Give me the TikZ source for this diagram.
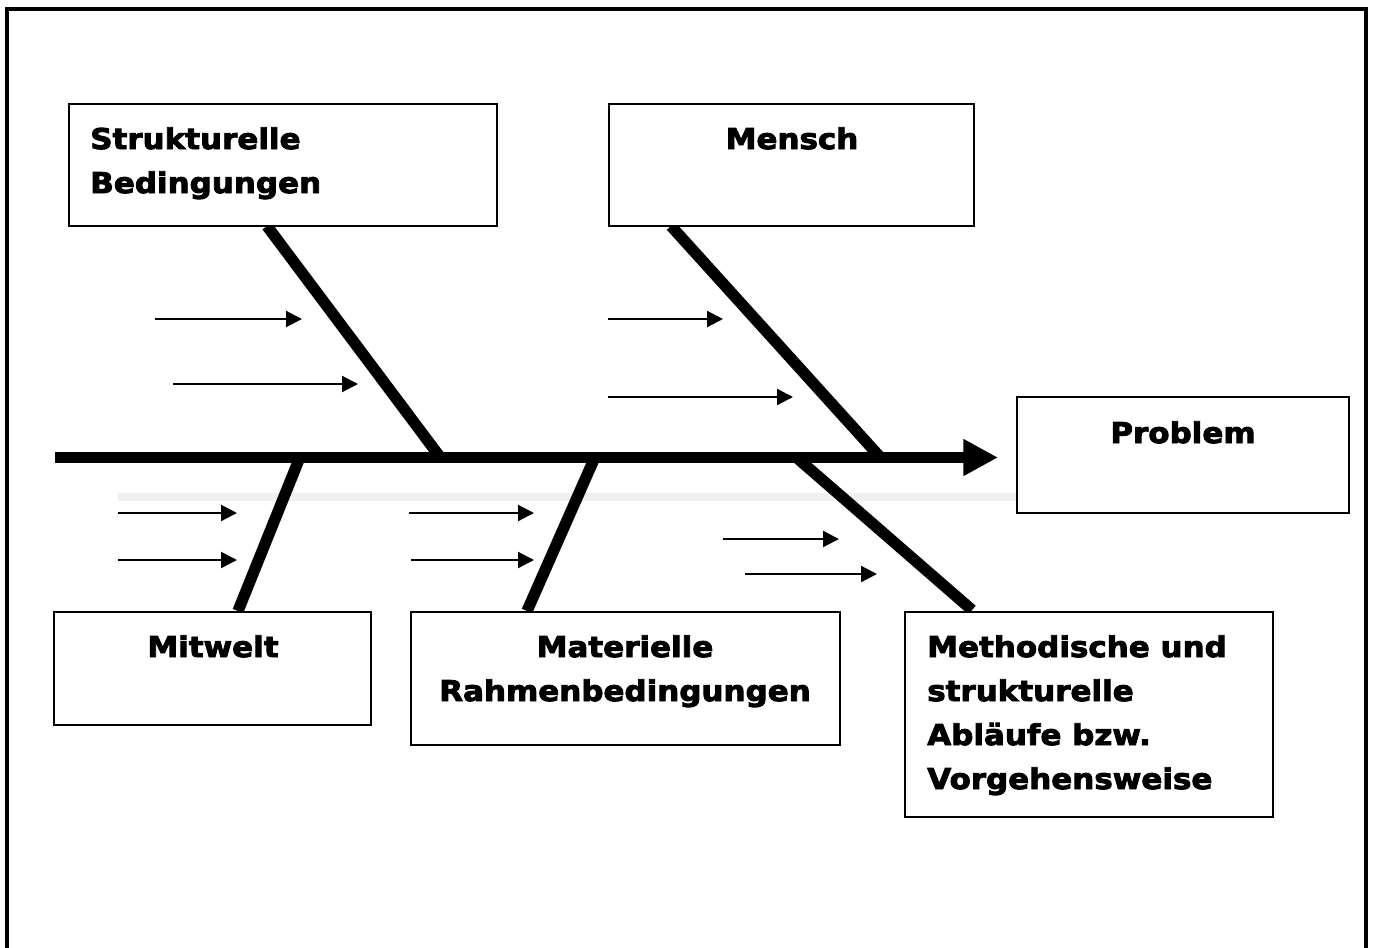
\documentclass[tikz,border=0pt]{standalone}
\usepackage{fontspec}
\newfontfamily\labelfont{DejaVu Sans Bold}[FakeStretch=1.08, FakeBold=3]
\usetikzlibrary{arrows.meta,fit}
\definecolor{shadowgray}{HTML}{F0F0F0}
\tikzset{
  frameline/.style={line width=3pt},
  boxstyle/.style={draw, line width=1.2pt, inner sep=0pt, fill=white},
  spineline/.style={line width=8.25pt, -{Triangle[length=26pt,width=26pt]}},
  boneline/.style={line width=8.5pt},
  smallarrow/.style={line width=1.6pt, -{Triangle[length=12pt,width=12pt]}},
  labeltext/.style={font={\labelfont\fontsize{21.5}{33}\selectfont}, inner sep=0pt},
}
\begin{document}
\begin{tikzpicture}[x=0.75pt,y=-0.75pt]
\useasboundingbox (0,0) rectangle (1374,947);
% outer frame
\draw[frameline] (7,960) -- (7,8.5) -- (1366,8.5) -- (1366,960);
% faint shadow line
\draw[shadowgray, line width=6pt] (118,497) -- (1016,497);
% spine
\coordinate (tail) at (55,457.5);
\coordinate (head) at (998,457.5);
\draw[spineline] (tail) -- (head);
% bone coordinates
\coordinate (sbTop) at (267,226);   \coordinate (sbBot) at (440,457);
\coordinate (meTop) at (671,226);   \coordinate (meBot) at (880,457);
\coordinate (miTop) at (300,457);   \coordinate (miBot) at (238,611);
\coordinate (maTop) at (595,457);   \coordinate (maBot) at (527,611);
\coordinate (mtTop) at (796,457);   \coordinate (mtBot) at (972,610);
\draw[boneline] (sbTop) -- (sbBot);
\draw[boneline] (meTop) -- (meBot);
\draw[boneline] (miTop) -- (miBot);
\draw[boneline] (maTop) -- (maBot);
\draw[boneline] (mtTop) -- (mtBot);
% small arrows
\foreach \xa/\xb/\yy [count=\i] in {155/302/319, 173/358/384, 608/723/319, 608/793/397,
    118/237/513, 118/237/560, 409/534/513, 411/534/560, 723/839/539, 745/877/574}{
  \coordinate (a\i s) at (\xa,\yy);
  \coordinate (a\i e) at (\xb,\yy);
  \draw[smallarrow] (a\i s) -- (a\i e);
}
% boxes
\node[boxstyle, fit={(69,104) (497,226)}] (boxSB) {};
\node[boxstyle, fit={(609,104) (974,226)}] (boxME) {};
\node[boxstyle, fit={(1017,397) (1349,513)}, line width=2.2pt] (boxPR) {};
\node[boxstyle, fit={(54,612) (371,725)}] (boxMI) {};
\node[boxstyle, fit={(411,612) (840,745)}] (boxMA) {};
\node[boxstyle, fit={(905,612) (1273,817)}, line width=1.6pt] (boxMT) {};
% labels
\node[labeltext, anchor=north west, align=left] (tSB) at (90,127) {Strukturelle\\Bedingungen};
\node[labeltext, anchor=north] (tME) at (792,127) {Mensch};
\node[labeltext, anchor=north] (tPR) at (1183,421) {Problem};
\node[labeltext, anchor=north] (tMI) at (213,635) {Mitwelt};
\node[labeltext, anchor=north, align=center] (tMA) at (625,635) {Materielle\\Rahmenbedingungen};
\node[labeltext, anchor=north west, align=left] (tMT) at (927,635) {Methodische und\\strukturelle\\Abläufe bzw.\\Vorgehensweise};
\end{tikzpicture}
\end{document}
